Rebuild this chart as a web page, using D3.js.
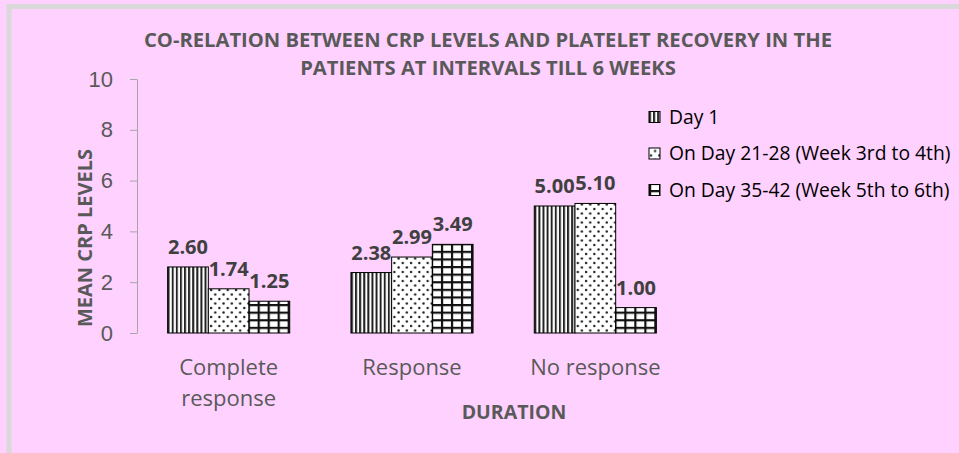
<!doctype html>
<html>
<head>
<meta charset="utf-8">
<title>CRP levels and platelet recovery</title>
<style>
  html, body { margin: 0; padding: 0; background: #ffd1ff; }
  svg { display: block; font-family: "Open Sans", sans-serif; }
  .tick text { fill: #595959; font-size: 22px; }
  .tick line, .domain { stroke: #a6a6a6; }
</style>
<script src="https://cdn.jsdelivr.net/npm/d3@7/dist/d3.min.js"></script>
</head>
<body>
<svg width="959" height="453"></svg>
<script>
var categories = ['Complete response', 'Response', 'No response'];
var seriesNames = ['Day 1', 'On Day 21-28 (Week 3rd to 4th)', 'On Day 35-42 (Week 5th to 6th)'];
var day1 = [2.60, 2.38, 5.00];
var day21to28 = [1.74, 2.99, 5.10];
var day35to42 = [1.25, 3.49, 1.00];
var yTicks = [0, 2, 4, 6, 8, 10];
var titleLines = ['CO-RELATION BETWEEN CRP LEVELS AND PLATELET RECOVERY IN THE',
                  'PATIENTS AT INTERVALS TILL 6 WEEKS'];

var series = [day1, day21to28, day35to42];
var patternIds = ['pat-stripe', 'pat-dots', 'pat-grid'];

var svg = d3.select('svg');

// frame
svg.append('rect')
  .attr('x', 9).attr('y', 6.5)
  .attr('width', 1000).attr('height', 500)
  .attr('fill', '#ffd1ff')
  .attr('stroke', '#d9d9d9')
  .attr('stroke-width', 5);

// patterns
var defs = svg.append('defs');
var p1 = defs.append('pattern').attr('id', 'pat-stripe')
  .attr('patternUnits', 'userSpaceOnUse').attr('width', 4.1).attr('height', 8);
p1.append('rect').attr('width', 4.1).attr('height', 8).attr('fill', '#fff');
p1.append('rect').attr('width', 2).attr('height', 8).attr('fill', '#222');

var p2 = defs.append('pattern').attr('id', 'pat-dots')
  .attr('patternUnits', 'userSpaceOnUse').attr('width', 8.3).attr('height', 9);
p2.append('rect').attr('width', 8.3).attr('height', 9).attr('fill', '#fff');
p2.append('circle').attr('cx', 2).attr('cy', 2).attr('r', 1.2).attr('fill', '#222');
p2.append('circle').attr('cx', 6.15).attr('cy', 6.5).attr('r', 1.2).attr('fill', '#222');

var p3 = defs.append('pattern').attr('id', 'pat-grid')
  .attr('patternUnits', 'userSpaceOnUse').attr('width', 10).attr('height', 7.6);
p3.append('rect').attr('width', 10).attr('height', 7.6).attr('fill', '#fff');
p3.append('rect').attr('width', 2.2).attr('height', 7.6).attr('fill', '#111');
p3.append('rect').attr('width', 10).attr('height', 2.2).attr('fill', '#111');

// scales
var x0 = d3.scaleBand().domain(categories).range([137, 687])
  .paddingInner(0.334).paddingOuter(0.167);
var x1 = d3.scaleBand().domain(d3.range(series.length)).range([0, x0.bandwidth()]);
var y = d3.scaleLinear().domain([0, 10]).range([333, 79]);

// y axis
svg.append('g')
  .attr('transform', 'translate(137,0)')
  .call(d3.axisLeft(y).tickValues(yTicks).tickSize(7).tickSizeOuter(0).tickPadding(17));

// bars
var groups = svg.selectAll('g.cat')
  .data(categories)
  .enter().append('g')
  .attr('class', 'cat')
  .attr('transform', function(d) { return 'translate(' + x0(d) + ',0)'; });

function rowOf(d, i) {
  return series.map(function(s, j) { return { s: j, v: s[i] }; });
}

groups.selectAll('rect')
  .data(rowOf)
  .enter().append('rect')
  .attr('x', function(d) { return x1(d.s); })
  .attr('y', function(d) { return y(d.v); })
  .attr('width', x1.bandwidth())
  .attr('height', function(d) { return y(0) - y(d.v); })
  .attr('fill', function(d) { return 'url(#' + patternIds[d.s] + ')'; })
  .attr('stroke', '#000')
  .attr('stroke-width', 1);

groups.selectAll('text.val')
  .data(rowOf)
  .enter().append('text')
  .attr('class', 'val')
  .attr('x', function(d) { return x1(d.s) + x1.bandwidth() / 2; })
  .attr('y', function(d) { return y(d.v) - 13; })
  .attr('text-anchor', 'middle')
  .attr('font-size', 20)
  .attr('font-weight', 'bold')
  .attr('fill', '#404040')
  .text(function(d) { return d.v.toFixed(2); });

// category labels, wrapped to the category width
var catText = svg.selectAll('text.cat')
  .data(categories)
  .enter().append('text')
  .attr('class', 'cat')
  .attr('x', function(d) { return x0(d) + x0.bandwidth() / 2; })
  .attr('y', 375)
  .attr('text-anchor', 'middle')
  .attr('font-size', 22)
  .attr('fill', '#595959')
  .text(function(d) { return d; });

catText.each(function(d) {
  var t = d3.select(this);
  if (this.getComputedTextLength() > x0.step() - 4) {
    var words = d.split(' ');
    t.text(null);
    words.forEach(function(w, k) {
      t.append('tspan')
        .attr('x', x0(d) + x0.bandwidth() / 2)
        .attr('dy', k === 0 ? 0 : 31)
        .text(w);
    });
  }
});

// axis titles
svg.append('text')
  .attr('x', 514).attr('y', 419)
  .attr('text-anchor', 'middle')
  .attr('font-size', 19.5).attr('font-weight', 'bold')
  .attr('fill', '#595959')
  .text('DURATION');

svg.append('text')
  .attr('transform', 'translate(92,238) rotate(-90)')
  .attr('text-anchor', 'middle')
  .attr('font-size', 20).attr('font-weight', 'bold')
  .attr('fill', '#595959')
  .text('MEAN CRP LEVELS');

// title
svg.selectAll('text.title')
  .data(titleLines)
  .enter().append('text')
  .attr('class', 'title')
  .attr('x', 488)
  .attr('y', function(d, i) { return 47 + i * 28; })
  .attr('text-anchor', 'middle')
  .attr('font-size', 20.2)
  .attr('font-weight', 'bold')
  .attr('fill', '#595959')
  .text(function(d) { return d; });

// legend
var legend = svg.selectAll('g.legend')
  .data(seriesNames)
  .enter().append('g')
  .attr('class', 'legend')
  .attr('transform', function(d, i) { return 'translate(649,' + (117 + i * 36.5) + ')'; });

legend.append('rect')
  .attr('x', 0).attr('y', -5.5)
  .attr('width', 11).attr('height', 11)
  .attr('fill', function(d, i) { return 'url(#' + patternIds[i] + ')'; })
  .attr('stroke', '#000');

legend.append('text')
  .attr('x', 20).attr('y', 0)
  .attr('dy', '0.35em')
  .attr('font-size', 19.3)
  .attr('fill', '#000')
  .text(function(d) { return d; });
</script>
</body>
</html>
